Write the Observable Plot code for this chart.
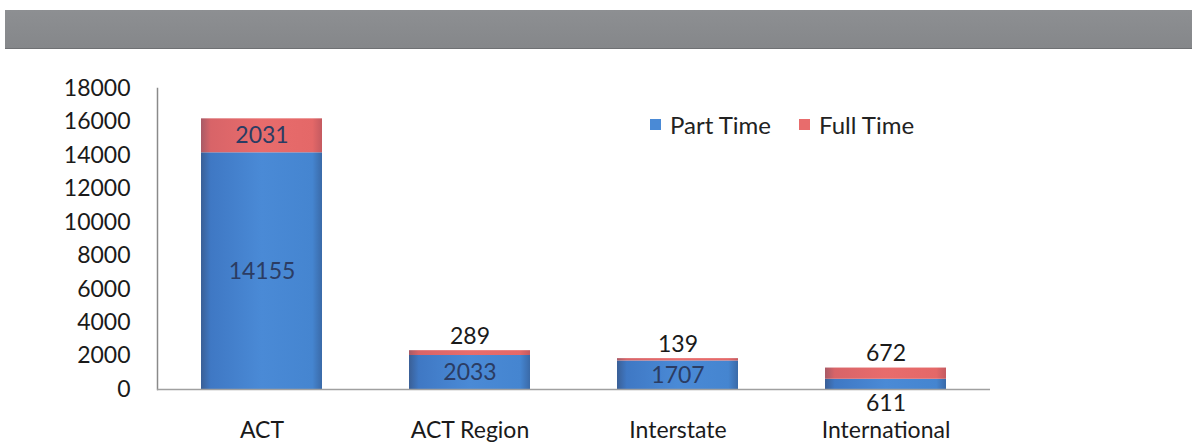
<!DOCTYPE html>
<html>
<head>
<meta charset="utf-8">
<script src="https://cdn.jsdelivr.net/npm/d3@7"></script>
<script src="https://cdn.jsdelivr.net/npm/@observablehq/plot@0.6"></script>
<style>
  html, body { margin: 0; padding: 0; background: #fff; }
  #wrap { position: relative; width: 1192px; height: 443px; overflow: hidden; font-family: Lato, "Open Sans", sans-serif; }
  #banner { position: absolute; left: 5px; top: 10px; width: 1187px; height: 38px;
            background: linear-gradient(#8d8f92, #85878a); border-bottom: 1px solid #6f7174; }
  #chart { position: absolute; left: 0; top: 48px; }
  #legend { position: absolute; left: 650px; top: 110px; display: flex; gap: 28px;
            font-size: 24px; color: #222; align-items: center; }
  #legend .item { display: flex; align-items: center; gap: 9px; }
  #legend .sw { width: 11px; height: 11px; display: inline-block; }
</style>
</head>
<body>
<div id="wrap">
  <div id="banner"></div>
  <div id="chart"></div>
  <div id="legend"></div>
</div>
<script>
// Enrolments by origin, split into part-time and full-time students
const categories = ["ACT", "ACT Region", "Interstate", "International"];
const partTime = [14155, 2033, 1707, 611];
const fullTime = [2031, 289, 139, 672];
const seriesNames = ["Part Time", "Full Time"];
const yTicks = [0, 2000, 4000, 6000, 8000, 10000, 12000, 14000, 16000, 18000];

const rows = [];
categories.forEach((c, i) => {
  rows.push({category: c, series: seriesNames[0], value: partTime[i]});
  rows.push({category: c, series: seriesNames[1], value: fullTime[i]});
});

const W = 1192, H = 400;
const yMax = 18000;
const mTop = 40, mBottom = 59;
const pxPerUnit = (H - mTop - mBottom) / yMax;
// segments thinner than this get their label outside the bar
const minInside = 20;

const stacked = Plot.stackY({x: "category", y: "value", z: "series", order: seriesNames});

// label placement: inside the segment when it is tall enough,
// otherwise above the bar (top segment) or below the axis (bottom segment)
const totals = new Map(categories.map((c, i) => [c, partTime[i] + fullTime[i]]));
const labelRows = rows.map(d => {
  const isTop = d.series === seriesNames[1];
  const base = isTop ? totals.get(d.category) - d.value : 0;
  const inside = d.value * pxPerUnit >= minInside;
  let y, dy, color;
  if (inside) { y = base + d.value / 2; dy = 0; color = "#2b3c63"; }
  else if (isTop) { y = base + d.value; dy = -14; color = "#1a1a1a"; }
  else { y = 0; dy = 14; color = "#1a1a1a"; }
  return {...d, y, dy, color};
});

const fillFor = {"Part Time": "url(#gPart)", "Full Time": "url(#gFull)"};

const plot = Plot.plot({
  width: W,
  height: H,
  marginLeft: 157,
  marginRight: 202,
  marginTop: mTop,
  marginBottom: mBottom,
  style: {fontFamily: "Lato, 'Open Sans', sans-serif", fontSize: "23px", color: "#1a1a1a", background: "transparent"},
  x: {domain: categories, paddingInner: 0.42, paddingOuter: 0.21, label: null},
  y: {domain: [0, yMax], label: null},
  color: {domain: seriesNames, range: [fillFor["Part Time"], fillFor["Full Time"]]},
  marks: [
    Plot.axisY({ticks: yTicks, tickSize: 0, tickPadding: 27, fontSize: 23, tickFormat: d => String(d), label: null}),
    Plot.frame({anchor: "left", stroke: "#8a8a8a", strokeWidth: 1.5}),
    Plot.barY(rows, {...stacked, fill: "series"}),
    Plot.ruleY([0], {stroke: "#a0a0a0", strokeWidth: 1.5}),
    Plot.axisX({tickSize: 0, tickPadding: 32, fontSize: 23, label: null}),
    ...labelRows.map(d => Plot.text([d], {
      x: "category", y: "y", text: r => String(r.value), dy: d.dy,
      fill: d.color, fontSize: 23, textAnchor: "middle", lineAnchor: "middle"
    }))
  ]
});

// shading for the bars: darker at the edges, lighter toward the middle
const ns = "http://www.w3.org/2000/svg";
const defs = document.createElementNS(ns, "defs");
function gradient(id, stops) {
  const g = document.createElementNS(ns, "linearGradient");
  g.setAttribute("id", id);
  g.setAttribute("x1", "0"); g.setAttribute("x2", "1");
  g.setAttribute("y1", "0"); g.setAttribute("y2", "0");
  stops.forEach(([o, c]) => {
    const s = document.createElementNS(ns, "stop");
    s.setAttribute("offset", o);
    s.setAttribute("stop-color", c);
    g.appendChild(s);
  });
  defs.appendChild(g);
}
gradient("gPart", [[0, "#3a5f96"], [0.08, "#3f78c4"], [0.5, "#4a8ad6"], [0.92, "#4585d0"], [1, "#3a6aa8"]]);
gradient("gFull", [[0, "#a85a66"], [0.08, "#d86468"], [0.5, "#e86c6c"], [0.92, "#e46868"], [1, "#c45a60"]]);
plot.insertBefore(defs, plot.firstChild);

document.getElementById("chart").appendChild(plot);

// legend
const legendColors = {"Part Time": "#4a8ad6", "Full Time": "#e86c6c"};
const legend = document.getElementById("legend");
seriesNames.forEach(name => {
  const item = document.createElement("span");
  item.className = "item";
  const sw = document.createElement("span");
  sw.className = "sw";
  sw.style.background = legendColors[name];
  const label = document.createElement("span");
  label.textContent = name;
  item.appendChild(sw);
  item.appendChild(label);
  legend.appendChild(item);
});
</script>
</body>
</html>
